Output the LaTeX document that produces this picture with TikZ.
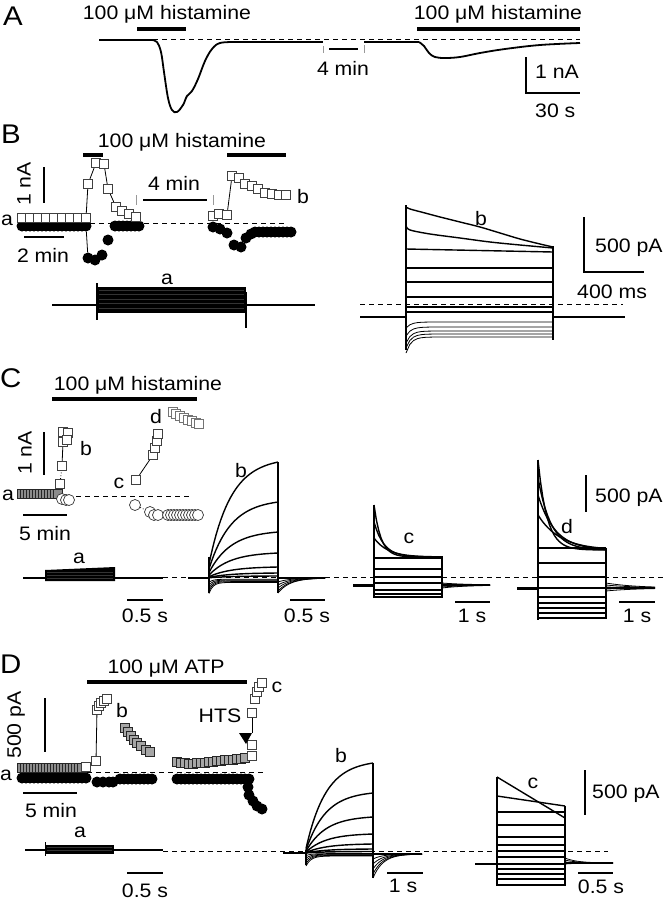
\documentclass[tikz,border=0pt]{standalone}
\usepackage{fontspec}
\setmainfont{Liberation Sans}[FakeStretch=1.09]
\tikzset{
	txt/.style={font=\fontsize{19.5}{22}\selectfont, inner sep=0pt, anchor=base},
	panel/.style={font=\fontsize{27}{30}\selectfont, inner sep=0pt, anchor=base west},
	drugbar/.style={line width=3.6pt},
	scalebar/.style={line width=1.8pt},
	zeroline/.style={dash pattern=on 5pt off 4pt, line width=0.9pt},
	trc/.style={line width=1.4pt, line join=round},
	thintrc/.style={line width=0.8pt, line join=round},
	brk/.style={black!40, line width=1pt},
	sqr/.style={rectangle, draw=black!75, fill=white, line width=0.8pt, minimum size=9.5pt, inner sep=0pt},
	sqg/.style={sqr, fill=black!45, draw=black!85},
	fdot/.style={circle, fill=black, minimum size=11pt, inner sep=0pt},
	odot/.style={circle, draw=black!80, fill=white, line width=0.7pt, minimum size=11pt, inner sep=0pt}
}
\begin{document}
\begin{tikzpicture}[x=1pt, y=-1pt]
	\useasboundingbox (0,0) rectangle (664,900);
	% A
	\node[panel] (labA) at (3,25) {A};
	\node[txt] (drugA1) at (167,19) {100 μM histamine};
	\node[txt] (drugA2) at (498,19) {100 μM histamine};
	\draw[drugbar] (137,29) -- (186,29);
	\draw[drugbar] (417,29) -- (580,29);
	\draw[zeroline] (99,39) -- (580,39);
	\draw[trc, line width=1.8pt] (99,40) -- (152,40);
	\draw[trc, line width=1.8pt] plot[smooth, tension=0.6] coordinates {(152,40) (157,42) (161,52) (164,72) (168,98) (172,110) (177,112) (183,105) (187,96) (192,91) (198,79) (205,61) (212,49) (220,43) (235,42)};
	\draw[trc, line width=1.8pt] (235,42) -- (323,42);
	\draw[trc, line width=1.8pt] (364,42) -- (419,42);
	\draw[trc, line width=1.8pt] plot[smooth, tension=0.6] coordinates {(419,42) (424,46) (429,53) (435,57) (445,58) (460,57) (480,53) (505,49) (540,45) (580,43)};
	\draw[brk] (323,46) -- (323,53);
	\draw[brk] (364,45) -- (364,53);
	\draw[scalebar] (329,49) -- (358,49);
	\node[txt] (minA) at (343,75) {4 min};
	\draw[scalebar] (526,57) -- (526,93) -- (580,93);
	\node[txt, anchor=base west] (nAA) at (535,78) {1 nA};
	\node[txt, anchor=base west] (sA) at (535,117) {30 s};
	% B
	\node[panel] (labB) at (1,143) {B};
	\node[txt] (drugB) at (182,147) {100 μM histamine};
	\draw[drugbar] (83,155) -- (103,155);
	\draw[drugbar] (227,155) -- (286,155);
	\draw[scalebar] (44,167) -- (44,203);
	\node[txt, anchor=center, rotate=90] (nAB) at (24,184) {1 nA};
	\draw[scalebar] (24,237) -- (64,237);
	\node[txt] (minB1) at (43,262) {2 min};
	\draw[brk] (136,195) -- (136,205);
	\draw[brk] (213,195) -- (213,205);
	\draw[scalebar] (143,200) -- (207,200);
	\node[txt] (minB2) at (174,190) {4 min};
	\draw[zeroline] (90,223) -- (287,223);
	\foreach \x in {22,26,...,82} \node[fdot] at (\x,226) {};
	\node[fdot] (dB1) at (86,226) {};
	\node[fdot] (dB2) at (88,258) {};
	\foreach \p in {(95,260),(102,255),(108,240)} \node[fdot] at \p {};
	\foreach \x in {115,119,...,139} \node[fdot] at (\x,226) {};
	\foreach \p in {(213,227),(220,229),(227,233),(234,245),(241,247),(246,238),(251,234)} \node[fdot] at \p {};
	\foreach \x in {255,259,...,291} \node[fdot] at (\x,232) {};
	\draw[thintrc] (dB1) -- (dB2);
	\foreach \x in {22,30,...,78} \node[sqr] at (\x,218) {};
	\node[sqr] (sB1) at (86,218) {};
	\node[sqr] (sB2) at (88,184) {};
	\node[sqr] (sB3) at (96,163) {};
	\node[sqr] (sB4) at (104,164) {};
	\node[sqr] (sB5) at (108,189) {};
	\node[sqr] (sB6) at (116,207) {};
	\foreach \p in {(122,211),(129,214),(136,217),(213,216),(219,214)} \node[sqr] at \p {};
	\node[sqr] (sB7) at (227,215) {};
	\node[sqr] (sB8) at (232,176) {};
	\foreach \p in {(239,178),(245,184),(252,186),(258,189),(265,193),(272,194),(279,195),(286,195)} \node[sqr] at \p {};
	\draw[thintrc] (sB1) -- (sB2) -- (sB3);
	\draw[thintrc] (sB4) -- (sB5) -- (sB6);
	\draw[thintrc] (sB7) -- (sB8);
	\node[txt] (aB) at (7,225) {a};
	\node[txt] (bB) at (303,203) {b};
	\draw[line width=1.8pt] (52,305) -- (97,305);
	\draw[line width=1.8pt] (246,305) -- (315,305);
	\fill (97,287) rectangle (246,313);
	\foreach \y in {290,294,299,303,308} \draw[white, opacity=0.2, line width=0.4pt] (99,\y) -- (244,\y);
	\draw[trc] (97,283) -- (97,320);
	\draw[trc] (246,292) -- (246,328);
	\node[txt] (aBt) at (167,284) {a};
	\draw[line width=2pt] (360,317) -- (406,317);
	\draw[line width=2pt] (553,317) -- (625,317);
	\draw[zeroline] (360,304) -- (623,304);
	\draw[trc] plot[smooth] coordinates {(406,207) (410,209) (425,213) (440,217) (460,222) (480,227) (500,233) (520,239) (540,244) (553,247)};
	\draw[trc] plot[smooth] coordinates {(406,226) (410,230) (430,234) (460,238) (490,242) (520,245) (553,248)};
	\draw[trc] (406,249) -- (553,252);
	\foreach \L in {268,282,297,307,312} \draw[trc] (406,\L) -- (553,\L);
	\foreach \L/\d in {322/6,327/9,331/12,334/14,337/16} \draw[thintrc] plot[domain=0:147, samples=40] ({406+\x},{\L+\d*exp(-\x/5)});
	\draw[trc] (406,205) -- (406,350);
	\draw[trc] (553,246) -- (553,340);
	\node[txt] (bBt) at (481,225) {b};
	\draw[scalebar] (584,217) -- (584,272) -- (644,272);
	\node[txt, anchor=base west] (pAB) at (595,252) {500 pA};
	\node[txt, anchor=base west] (msB) at (577,298) {400 ms};
	% C
	\node[panel] (labC) at (0,387) {C};
	\node[txt] (drugC) at (138,390) {100 μM histamine};
	\draw[drugbar] (52,399) -- (197,399);
	\draw[scalebar] (44,432) -- (44,475);
	\node[txt, anchor=center, rotate=90] (nAC) at (25,453) {1 nA};
	\draw[scalebar] (23,515) -- (67,515);
	\node[txt] (minC) at (45,540) {5 min};
	\draw[zeroline] (67,496) -- (190,496);
	\foreach \x in {22,25,...,58} \node[sqg] at (\x,494) {};
	\foreach \p in {(62,499),(66,500),(69,500)} \node[odot] at \p {};
	\node[sqr] (sC1) at (60,484) {};
	\node[sqr] (sC2) at (62,466) {};
	\node[sqr] (sC3) at (63,442) {};
	\foreach \p in {(63,432),(68,433),(67,440)} \node[sqr] at \p {};
	\draw[thintrc, dotted] (sC1) -- (sC2);
	\draw[thintrc] (sC2) -- (sC3);
	\node[sqr] (sC4) at (136,480) {};
	\node[sqr] (sC5) at (153,455) {};
	\foreach \p in {(155,448),(157,441),(158,434)} \node[sqr] at \p {};
	\draw[thintrc] (sC4) -- (sC5);
	\foreach \p in {(173,412),(176,414),(180,416),(184,418),(188,420),(192,421),(196,423),(199,424)} \node[sqr, draw=black!55] at \p {};
	\node[odot] (oC1) at (135,505) {};
	\node[odot] (oC2) at (150,512) {};
	\foreach \x in {154,158,168,171,...,200} \node[odot] at (\x,515) {};
	\draw[thintrc, dotted] (oC1) -- (oC2);
	\node[txt] (aC) at (8,500) {a};
	\node[txt] (bC) at (86,455) {b};
	\node[txt] (cC) at (119,488) {c};
	\node[txt] (dC) at (156,423) {d};
	\draw[line width=1.5pt] (23,578) -- (163,578);
	\fill (45,581) -- (45,570) -- (80,568.5) -- (115,567) -- (115,581) -- cycle;
	\foreach \y in {572,575,578} \draw[white, opacity=0.2, line width=0.4pt] (47,\y) -- (113,\y);
	\node[txt] (aCt) at (79,563) {a};
	\draw[zeroline] (163,577) -- (663,577);
	\draw[line width=2pt] (188,578) -- (209,578);
	\foreach \A in {116,76,46,25,11,5,2} \draw[trc] plot[domain=0:69, samples=30] ({209+\x},{578-\A*(0.12+0.88*(1-exp(-\x/22))/0.957)});
	\foreach \d in {3,5,7,9,11} \draw[thintrc] plot[domain=0:69, samples=30] ({209+\x},{578+\d*0.4+\d*exp(-\x/4)});
	\foreach \d in {4,7,10,13,15} \draw[thintrc] plot[domain=0:47, samples=25] ({278+\x},{578+\d*exp(-\x/12)});
	\draw[trc] (278,578) -- (325,578);
	\draw[trc] (209,557) -- (209,593);
	\draw[trc] (278,462) -- (278,593);
	\node[txt] (bCt) at (241,477) {b};
	\draw[line width=3pt] (353,585) -- (374,585);
	\foreach \L in {558,569,577,583,590,594,597} \draw[trc] (374,\L) -- (442,\L);
	\foreach \pk/\tc in {505/7,522/10,538/14} \draw[trc] plot[domain=0:68, samples=30] ({374+\x},{557-(557-\pk)*exp(-\x/\tc)});
	\draw[trc] (374,505) -- (374,598);
	\draw[trc] (442,556) -- (442,598);
	\foreach \d in {-2,-1,1,2,3} \draw[thintrc] plot[domain=0:48, samples=20] ({442+\x},{585+\d*exp(-\x/25)});
	\draw[line width=2.5pt] (442,585) -- (490,585);
	\node[txt] (cCt) at (409,543) {c};
	\draw[line width=3pt] (517,588) -- (538,588);
	\foreach \L in {548,563,577,588,597,603,608,613,618} \draw[trc] (538,\L) -- (606,\L);
	\foreach \pk/\tc in {460/9,478/13,495/17,515/22} \draw[trc] plot[domain=0:68, samples=30] ({538+\x},{550-(550-\pk)*exp(-\x/\tc)});
	\draw[trc] (538,460) -- (538,620);
	\draw[trc] (606,548) -- (606,619);
	\foreach \d in {-5,-3,-1,1,3} \draw[thintrc] plot[domain=0:49, samples=20] ({606+\x},{588+\d*exp(-\x/30)});
	\draw[line width=2pt] (606,588) -- (655,588);
	\node[txt] (dCt) at (567,533) {d};
	\draw[scalebar] (586,475) -- (586,512);
	\node[txt, anchor=base west] (pAC) at (595,502) {500 pA};
	\draw[scalebar] (127,600) -- (163,600);
	\draw[scalebar] (290,600) -- (325,600);
	\draw[scalebar] (455,602) -- (490,602);
	\draw[scalebar] (619,602) -- (655,602);
	\node[txt] (tC1) at (145,622) {0.5 s};
	\node[txt] (tC2) at (307,622) {0.5 s};
	\node[txt] (tC3) at (472,622) {1 s};
	\node[txt] (tC4) at (637,622) {1 s};
	% D
	\node[panel] (labD) at (0,673) {D};
	\node[txt] (drugD) at (166,673) {100 μM ATP};
	\draw[drugbar] (87,682) -- (247,682);
	\draw[scalebar] (45,698) -- (45,752);
	\node[txt, anchor=center, rotate=90] (pAD1) at (16,725) {500 pA};
	\draw[scalebar] (23,793) -- (77,793);
	\node[txt] (minD) at (51,817) {5 min};
	\draw[zeroline] (87,772) -- (263,772);
	\foreach \x in {22,26,...,86} \node[fdot] at (\x,778) {};
	\foreach \x in {97,103,109,113} \node[fdot] at (\x,782) {};
	\foreach \x in {120,124,...,152} \node[fdot] at (\x,779) {};
	\foreach \x in {177,181,...,249} \node[fdot] at (\x,779) {};
	\foreach \p in {(248,787),(249,795),(253,801),(257,806),(262,809)} \node[fdot] at \p {};
	\foreach \x in {22,25,...,82} \node[sqg, minimum size=9pt] at (\x,768) {};
	\node[sqr, minimum size=9pt] at (86,767) {};
	\node[sqr, minimum size=9pt] (sD1) at (96,761) {};
	\node[sqr, minimum size=9pt] (sD2) at (97,710) {};
	\foreach \p in {(99,706),(101,703),(104,701),(107,699)} \node[sqr, minimum size=9pt] at \p {};
	\draw[thintrc] (sD1) -- (sD2);
	\foreach \p in {(125,728),(128,732),(131,736),(134,740),(137,743),(141,746),(146,750),(150,752)} \node[sqg, fill=black!35, minimum size=9pt] at \p {};
	\foreach \x/\y in {177/762,181/763,185/763,189/764,193/764,197/763,201/763,205/763,209/762,213/762,217/761,221/761,225/760,229/760,233/760,237/759,241/759,245/758} \node[sqg, fill=black!35, minimum size=9pt] at (\x,\y) {};
	\node[sqr, minimum size=9pt] at (252,756) {};
	\node[sqr, minimum size=9pt] at (252,745) {};
	\node[sqr, minimum size=9pt] (sD3) at (252,713) {};
	\foreach \p in {(255,699),(257,692),(259,687),(262,683)} \node[sqr, minimum size=9pt] at \p {};
	\coordinate (htsTip) at (252,733);
	\draw[thintrc] (sD3) -- (htsTip);
	\fill (239,733) -- (htsTip) -- (246,744) -- cycle;
	\node[txt] (htsD) at (220,722) {HTS};
	\node[txt] (aD) at (6,780) {a};
	\node[txt] (bD) at (122,717) {b};
	\node[txt] (cD) at (277,692) {c};
	\draw[line width=1.5pt] (25,850) -- (163,850);
	\fill (45,854) rectangle (114,845);
	\foreach \y in {847,850} \draw[white, opacity=0.2, line width=0.4pt] (47,\y) -- (112,\y);
	\draw[thintrc] (45,842) -- (45,856);
	\node[txt] (aDt) at (80,837) {a};
	\draw[zeroline] (163,851) -- (608,851);
	\draw[line width=2pt] (283,853) -- (306,853);
	\foreach \A in {90,60,36,19,9,4,1.5} \draw[trc] plot[domain=0:67, samples=30] ({306+\x},{853-\A*(0.05+0.95*(1-exp(-\x/20))/0.965)});
	\foreach \d in {2,4,6,8,10} \draw[thintrc] plot[domain=0:67, samples=30] ({306+\x},{853+\d*0.3+\d*exp(-\x/5)});
	\foreach \d in {5,10,15,20,24} \draw[thintrc] plot[domain=0:49, samples=25] ({373+\x},{854+\d*exp(-\x/10)});
	\draw[trc] (373,854) -- (422,854);
	\draw[trc] (306,850) -- (306,865);
	\draw[trc] (373,763) -- (373,878);
	\node[txt] (bDt) at (341,762) {b};
	\draw[line width=2pt] (475,864) -- (497,864);
	\draw[trc] (497,777) -- (565,818);
	\draw[trc] (497,796) -- (565,806);
	\foreach \L in {812,825,837,845,851,857,864,869,874,879,885} \draw[trc] (497,\L) -- (565,\L);
	\draw[trc] (497,777) -- (497,886);
	\draw[trc] (565,806) -- (565,886);
	\foreach \d in {-5,-3,-1,1} \draw[thintrc] plot[domain=0:48, samples=20] ({565+\x},{863+\d*exp(-\x/12)});
	\draw[line width=1.8pt] (565,863) -- (613,863);
	\node[txt] (cDt) at (533,788) {c};
	\draw[scalebar] (585,770) -- (585,815);
	\node[txt, anchor=base west] (pAD2) at (592,798) {500 pA};
	\draw[scalebar] (127,873) -- (163,873);
	\draw[scalebar] (387,873) -- (423,873);
	\draw[scalebar] (578,873) -- (613,873);
	\node[txt] (tD1) at (145,897) {0.5 s};
	\node[txt] (tD2) at (403,892) {1 s};
	\node[txt] (tD3) at (601,893) {0.5 s};
\end{tikzpicture}
\end{document}
